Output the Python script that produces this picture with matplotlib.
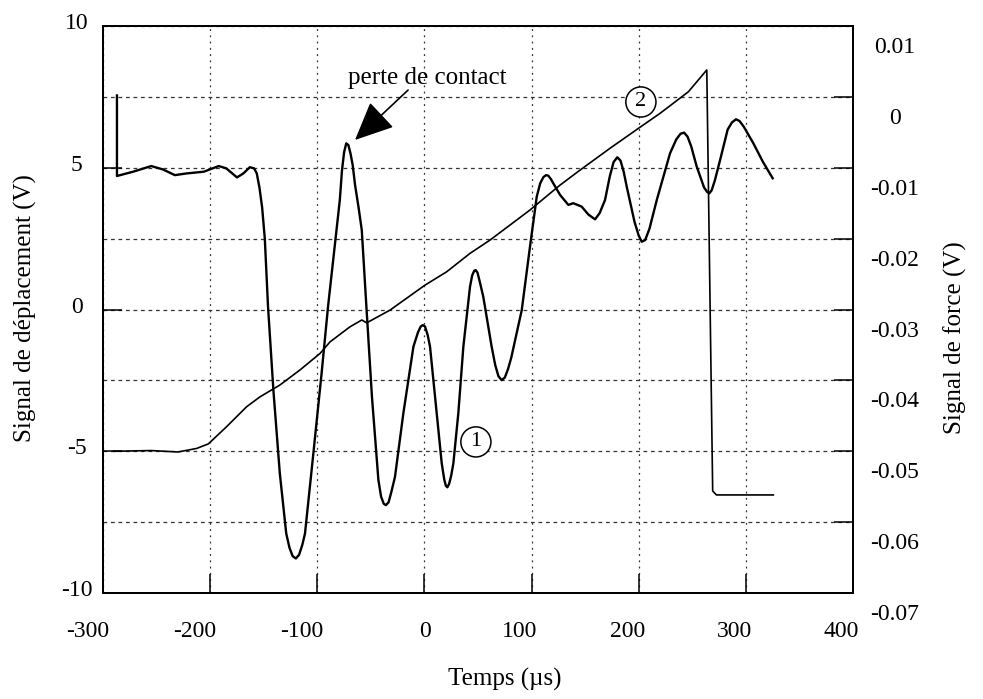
import matplotlib
matplotlib.use("Agg")
import matplotlib.pyplot as plt
from matplotlib.ticker import MultipleLocator, FixedLocator
from matplotlib.transforms import ScaledTranslation

plt.rcParams['font.family'] = ['Liberation Serif', 'DejaVu Serif']
plt.rcParams['axes.unicode_minus'] = False

# courbe 1 : signal de deplacement (V), axe gauche
t_depl = [-287, -287, -272, -255, -244, -233, -222, -206, -192, -185, -175, -169,
          -163, -159, -156.5, -154, -151.5, -149, -146, -141, -135, -129, -126,
          -123, -120, -117, -114, -111.5, -104, -96, -90, -79, -77, -75, -73, -71,
          -69, -67, -64.8, -61.5, -58.5, -54, -49, -43, -40.5, -38, -36, -33.5,
          -31, -27.5, -19.7, -10.3, -6, -3.5, -1.6, 0.5, 3, 5.2, 11.4, 16.1, 18.5,
          20, 21.4, 23, 25, 27, 31.6, 36.3, 42.5, 44.5, 46.5, 47.8, 49.5, 51.5,
          54.9, 62.7, 66, 69, 72, 75, 78, 81, 90.8, 98.5, 104.8, 108, 111, 113.5,
          115.6, 118, 121, 126.6, 134.3, 138.9, 146.7, 153, 159.2, 163.5, 168.5,
          173, 176.5, 180, 183, 186, 188.8, 196, 200, 202.8, 206, 210, 216.8,
          229.2, 235, 239, 242.3, 245.5, 249, 254.1, 261, 264, 265.9, 268, 271,
          275.9, 283, 287, 290.8, 294, 298, 307, 316, 325]
v_depl = [7.55, 4.71, 4.86, 5.06, 4.94, 4.74, 4.80, 4.86, 5.06, 4.98, 4.66, 4.80,
          5.02, 4.98, 4.8, 4.3, 3.6, 2.5, 0.10, -2.84, -5.78, -7.90, -8.4, -8.7,
          -8.78, -8.65, -8.3, -7.90, -5.19, -2.25, 0.10, 3.86, 4.9, 5.55, 5.86, 5.8,
          5.5, 5.1, 4.4, 3.6, 2.80, -0.02, -3.08, -6.01, -6.6, -6.85, -6.90, -6.8,
          -6.45, -5.90, -3.66, -1.31, -0.8, -0.6, -0.55, -0.6, -0.9, -1.31, -3.66,
          -5.42, -6.0, -6.22, -6.27, -6.15, -5.85, -5.42, -3.66, -1.31, 0.80, 1.2,
          1.37, 1.39, 1.3, 1.0, 0.45, -1.31, -1.95, -2.35, -2.49, -2.4, -2.1, -1.7,
          -0.02, 2.22, 3.98, 4.45, 4.67, 4.74, 4.72, 4.6, 4.4, 4.04, 3.69, 3.75,
          3.63, 3.35, 3.18, 3.4, 3.86, 4.7, 5.2, 5.37, 5.25, 4.85, 4.33, 3.1, 2.6,
          2.39, 2.45, 2.85, 3.86, 5.51, 6.0, 6.2, 6.24, 6.1, 5.75, 5.04, 4.3, 4.14,
          4.10, 4.2, 4.55, 5.27, 6.35, 6.6, 6.71, 6.65, 6.45, 5.86, 5.2, 4.63]

# courbe 2 : signal de force (V), axe droit
t_force = [-290, -255, -230, -212.6, -201.7, -184.6, -166, -153.5, -134.8, -116.1,
           -97.5, -88.1, -69.5, -58.5, -53.9, -32.1, 0.5, 20.7, 42.5, 61.2, 98.5,
           126.6, 145.3, 173.3, 199.7, 219.9, 246.3, 263.5, 269, 272.5, 325.6]
v_force = [-0.0500, -0.0499, -0.0501, -0.0496, -0.04896, -0.04652, -0.04372,
           -0.04232, -0.04064, -0.03852, -0.0362, -0.03456, -0.03244, -0.03148,
           -0.03188, -0.03008, -0.02656, -0.02468, -0.02208, -0.0202, -0.01596,
           -0.01244, -0.01032, -0.00724, -0.00444, -0.00232, 0.00072, 0.0038,
           -0.0556, -0.05616, -0.05616]

x_ticks = [-300, -200, -100, 0, 100, 200, 300, 400]
y_ticks = [-10, -5, 0, 5, 10]
force_ticks = [-0.07, -0.06, -0.05, -0.04, -0.03, -0.02, -0.01, 0, 0.01]

fig = plt.figure(figsize=(9.83, 6.99), dpi=100)
ax = fig.add_axes([0.1048, 0.1516, 0.763, 0.8112])
ax2 = ax.twinx()

ax.plot(t_depl, v_depl, color='black', lw=1.7, zorder=5)
ax2.plot(t_force, v_force, color='black', lw=1.2, zorder=5)

ax.set_xlim(-300, 400)
ax.set_ylim(-10, 10)
ax2.set_ylim(-0.07, 0.01)

ax.xaxis.set_major_locator(FixedLocator(x_ticks))
ax.yaxis.set_major_locator(FixedLocator(y_ticks))
ax.yaxis.set_minor_locator(MultipleLocator(2.5))
ax2.yaxis.set_major_locator(FixedLocator(force_ticks))
ax2.set_yticklabels([f"{v:g}" for v in force_ticks])

ax.grid(axis='x', which='major', color='0.2', lw=0.9, linestyle=(0, (1.5, 3.5)))
ax.grid(axis='y', which='both', color='0.2', lw=0.9, linestyle=(0, (3, 3)))

ax.tick_params(axis='both', which='major', direction='in', length=14, width=1.1,
               labelsize=17, top=False)
ax.tick_params(axis='y', which='minor', length=0)
ax.tick_params(axis='y', pad=19)
ax.tick_params(axis='x', pad=20)
ax2.tick_params(axis='y', direction='in', length=14, width=1.1, labelsize=17, pad=30)

for s in ['left', 'right', 'top', 'bottom']:
    ax.spines[s].set_linewidth(1.4)
    ax2.spines[s].set_linewidth(1.4)

ax.set_xlabel('Temps (µs)', fontsize=18, va='center')
ax.xaxis.set_label_coords(0.536, -0.153)
ax.set_ylabel('Signal de déplacement (V)', fontsize=18, va='center')
ax.yaxis.set_label_coords(-0.104, 0.503)
ax2.set_ylabel('Signal de force (V)', fontsize=18, rotation=90, va='center')
ax2.yaxis.set_label_coords(1.136, 0.451)

# annotations
ax.text(2.4, 8.17, 'perte de contact', fontsize=18, ha='center', va='center', zorder=6)
ax.annotate('', xy=(-64.8, 5.98), xytext=(-15.3, 7.74),
            arrowprops=dict(arrowstyle='-|>,head_length=1.1,head_width=0.5',
                            mutation_scale=22, color='black', lw=1.2,
                            shrinkA=0, shrinkB=0), zorder=6)
ax.text(202, 7.32, '2', fontsize=16, ha='center', va='center', zorder=6,
        bbox=dict(boxstyle='circle,pad=0.25', fc='white', ec='black', lw=1.1))
ax.text(48, -4.67, '1', fontsize=16, ha='center', va='center', zorder=6,
        bbox=dict(boxstyle='circle,pad=0.25', fc='white', ec='black', lw=1.1))

# decalage des etiquettes comme sur l'original
fig.canvas.draw()
dpi = fig.dpi
for lab in ax.get_xticklabels():
    lab.set_horizontalalignment('right')
    lab.set_transform(lab.get_transform() + ScaledTranslation(6 / dpi, 0, fig.dpi_scale_trans))
for lab in ax.get_yticklabels():
    lab.set_horizontalalignment('center')
    lab.set_transform(lab.get_transform() + ScaledTranslation(0, 5 / dpi, fig.dpi_scale_trans))
for lab in ax2.get_yticklabels():
    lab.set_horizontalalignment('center')
    lab.set_transform(lab.get_transform() + ScaledTranslation(0, -19 / dpi, fig.dpi_scale_trans))

fig.savefig('out.png', dpi=100)
